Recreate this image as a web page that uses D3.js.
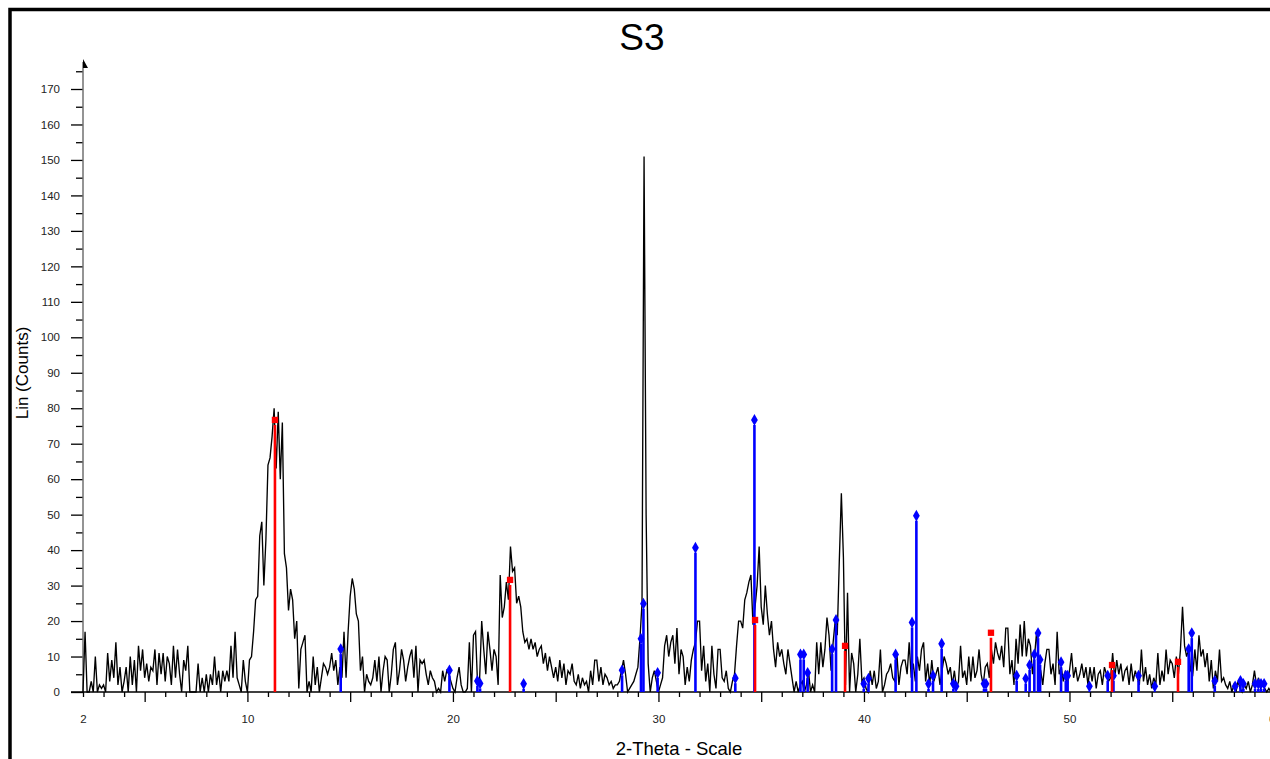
<!DOCTYPE html>
<html>
<head>
<meta charset="utf-8">
<script src="https://cdn.jsdelivr.net/npm/d3@7"></script>
<style>
  html, body { margin: 0; padding: 0; background: #fff; overflow: hidden; }
  svg { display: block; font-family: "Liberation Sans", Arial, sans-serif; }
</style>
</head>
<body>
<svg id="chart" width="1270" height="759"></svg>
<script>
// Scan settings: 2-theta from 2 to 60 degrees, 0.1 degree per step
const scanStart = 2;
const scanStep = 0.1;

// Measured counts, one row per degree (x.0 ... x.9)
const counts = [
  /* 2 */ 0,17,0,0,3,0,10,0,2,1,
  /* 3 */ 2,0,11,3,9,4,14,2,7,0,
  /* 4 */ 3,7,0,10,2,9,0,13,6,12,
  /* 5 */ 4,8,3,7,6,12,2,11,5,11,
  /* 6 */ 3,10,8,2,13,4,12,5,0,9,
  /* 7 */ 6,13,0,0,0,0,8,0,4,0,
  /* 8 */ 5,0,5,2,10,2,6,0,6,3,
  /* 9 */ 6,3,13,4,17,4,2,0,9,3,
  /* 10 */ 0,9,10,17,26,27,44,48,30,43,
  /* 11 */ 64,66,72,80,63,79,60,76,39,35,
  /* 12 */ 23,29,26,15,20,1,12,14,16,0,
  /* 13 */ 3,0,10,2,7,0,4,8,7,5,
  /* 14 */ 7,11,6,9,2,7,4,17,4,17,
  /* 15 */ 27,32,29,22,20,6,10,0,5,3,
  /* 16 */ 2,4,9,3,10,0,6,10,9,0,
  /* 17 */ 5,12,14,2,6,12,9,3,7,10,
  /* 18 */ 12,4,13,0,9,8,9,5,2,6,
  /* 19 */ 4,3,0,1,0,6,3,6,5,3,
  /* 20 */ 1,0,4,7,2,0,0,1,14,0,
  /* 21 */ 16,17,2,4,20,12,5,17,12,6,
  /* 22 */ 12,10,2,33,21,24,31,26,41,34,
  /* 23 */ 35,25,27,24,17,14,15,12,15,12,
  /* 24 */ 14,10,12,13,8,11,6,10,7,4,
  /* 25 */ 7,3,9,4,8,2,6,5,8,3,
  /* 26 */ 2,5,1,4,2,3,0,6,2,9,
  /* 27 */ 9,3,7,2,5,4,2,3,1,2,
  /* 28 */ 2,3,6,9,5,0,1,2,3,5,
  /* 29 */ 7,15,25,151,50,8,0,4,6,3,
  /* 30 */ 0,2,4,13,16,10,14,16,8,18,
  /* 31 */ 5,12,10,2,7,3,9,12,14,20,
  /* 32 */ 20,6,13,3,8,0,13,5,1,12,
  /* 33 */ 12,4,3,6,1,0,3,5,13,20,
  /* 34 */ 20,18,26,28,31,33,19,24,30,41,
  /* 35 */ 24,19,30,22,16,20,12,7,14,10,
  /* 36 */ 12,8,5,12,8,4,0,3,0,2,
  /* 37 */ 3,0,2,6,0,2,0,14,5,14,
  /* 38 */ 7,12,21,16,6,14,20,16,37,56,
  /* 39 */ 38,2,28,0,11,8,0,5,15,3,
  /* 40 */ 4,1,0,6,2,6,1,3,12,0,
  /* 41 */ 2,5,6,8,4,3,11,2,7,9,
  /* 42 */ 9,5,14,4,8,3,10,6,12,14,
  /* 43 */ 3,8,2,9,3,5,7,2,6,10,
  /* 44 */ 8,5,7,2,6,1,3,13,4,6,
  /* 45 */ 2,10,3,10,4,6,12,5,2,7,
  /* 46 */ 8,4,12,8,14,11,9,13,7,18,
  /* 47 */ 18,5,9,2,15,8,19,10,20,10,
  /* 48 */ 15,13,5,10,17,8,6,2,8,12,
  /* 49 */ 12,5,8,2,17,5,7,3,6,2,
  /* 50 */ 6,11,4,7,3,5,8,4,7,2,
  /* 51 */ 7,3,7,1,5,6,2,7,5,3,
  /* 52 */ 4,11,4,9,5,8,3,6,7,2,
  /* 53 */ 8,3,6,4,2,12,3,7,2,5,
  /* 54 */ 1,4,2,11,2,6,3,12,5,9,
  /* 55 */ 8,4,10,5,12,24,13,10,12,6,
  /* 56 */ 5,12,6,16,10,12,7,11,3,9,
  /* 57 */ 1,6,3,12,3,4,2,1,3,0,
  /* 58 */ 2,0,3,1,0,2,1,3,0,2,
  /* 59 */ 6,2,4,1,2,1,0,1,0,1,
  /* 60 */ 1
];

// Reference pattern lines, phase A (blue, diamonds)
const phaseAAngles = [14.54, 19.83, 21.19, 21.32, 23.44, 28.23, 29.15, 29.27, 29.96, 31.8,
  33.74, 34.67, 36.91, 37.07, 37.26, 38.45, 38.64, 39.99, 40.22, 41.54,
  42.34, 42.55, 43.14, 43.36, 43.78, 44.35, 44.48, 45.84, 45.94, 47.43,
  47.87, 48.06, 48.29, 48.47, 48.57, 49.59, 49.82, 49.91, 50.97, 51.86,
  52.14, 53.36, 54.15, 55.8, 55.95, 57.07, 58.06, 58.32, 58.46, 59.03,
  59.19, 59.32, 59.47];
const phaseAHeights = [12.1, 6.1, 3.1, 2.4, 2.3, 6.1, 15, 24.9, 5.4, 40.7,
  3.9, 76.7, 10.6, 10.6, 5.4, 12.1, 20.3, 2.3, 3.8, 10.6,
  19.6, 49.7, 2.3, 4.6, 13.6, 2.3, 1.6, 2.3, 2.3, 4.6,
  3.8, 7.6, 10.6, 16.6, 9.1, 8.4, 4.6, 4.6, 1.6, 4.6,
  4.6, 4.6, 1.6, 12.1, 16.6, 3.1, 1.6, 3.1, 2.3, 2.3,
  2.3, 2.3, 2.3];

// Reference pattern lines, phase B (red, squares)
const phaseBAngles = [11.34, 22.78, 34.7, 39.08, 46.18, 52.07, 55.28];
const phaseBHeights = [76.7, 31.6, 20.3, 13, 16.7, 7.6, 8.5];

// Axis ticks
const xLabelTicks = [2, 10, 20, 30, 40, 50, 60];
const yLabelTicks = [0, 10, 20, 30, 40, 50, 60, 70, 80, 90, 100, 110, 120, 130, 140, 150, 160, 170];

const chartTitle = "S3";
const xTitle = "2-Theta - Scale";
const yTitle = "Lin (Counts)";

const svg = d3.select("#chart");

const x = d3.scaleLinear().domain([2, 60]).range([83, 1275]);
const y = d3.scaleLinear().domain([0, 170]).range([692, 89]);

const scan = counts.map((c, i) => ({ angle: scanStart + i * scanStep, count: c }));
const phaseA = phaseAAngles.map((a, i) => ({ angle: a, height: phaseAHeights[i] }));
const phaseB = phaseBAngles.map((a, i) => ({ angle: a, height: phaseBHeights[i] }));

// Outer frame
svg.append("rect")
  .attr("x", 10).attr("y", 9.5)
  .attr("width", 1400).attr("height", 900)
  .attr("fill", "none").attr("stroke", "#000").attr("stroke-width", 3.5);

// Title
svg.append("text")
  .attr("x", 642).attr("y", 50)
  .attr("text-anchor", "middle")
  .attr("font-size", 37)
  .attr("fill", "#000")
  .text(chartTitle);

// Y axis: major ticks every 10 with labels, minor every 5 up to 175
const yMinor = d3.range(0, 180, 5);
const yAxis = d3.axisLeft(y)
  .tickValues(yMinor)
  .tickSize(7)
  .tickPadding(11)
  .tickFormat(d => yLabelTicks.includes(d) ? d : "");
const gy = svg.append("g").attr("transform", "translate(83,0)").call(yAxis);
gy.select(".domain").remove();
gy.selectAll(".tick line")
  .attr("stroke", "#000")
  .attr("stroke-width", 1.3)
  .attr("x2", d => yLabelTicks.includes(d) ? -12 : -7);
gy.selectAll(".tick text")
  .attr("x", -23)
  .attr("font-size", 11.5)
  .attr("fill", "#222")
  .attr("font-family", "'Liberation Sans', Arial, sans-serif");

// Y axis line with arrow head
svg.append("line")
  .attr("x1", 83).attr("x2", 83)
  .attr("y1", y(0)).attr("y2", 62)
  .attr("stroke", "#707070").attr("stroke-width", 1.5);
svg.append("path")
  .attr("d", "M83,59 L88,68 L83,68 Z")
  .attr("fill", "#000");

// X axis: minor ticks every degree, longer ticks every 5 degrees
const xMinor = d3.range(2, 61, 1);
const xAxis = d3.axisBottom(x)
  .tickValues(xMinor)
  .tickSize(5)
  .tickFormat(d => xLabelTicks.includes(d) ? d : "");
const gx = svg.append("g").attr("transform", `translate(0,${y(0)})`).call(xAxis);
gx.select(".domain").remove();
gx.selectAll(".tick line")
  .attr("stroke", "#000")
  .attr("stroke-width", 1.3)
  .attr("y2", d => d % 5 === 0 ? 10 : 5);
gx.selectAll(".tick text")
  .attr("y", 23)
  .attr("font-size", 11.5)
  .attr("fill", "#222")
  .attr("font-family", "'Liberation Sans', Arial, sans-serif");
svg.append("line")
  .attr("x1", 71).attr("x2", 1275)
  .attr("y1", y(0)).attr("y2", y(0))
  .attr("stroke", "#000").attr("stroke-width", 1.5);

// Axis titles
svg.append("text")
  .attr("transform", "translate(28,373) rotate(-90)")
  .attr("text-anchor", "middle")
  .attr("font-size", 17)
  .attr("fill", "#000")
  .text(yTitle);
svg.append("text")
  .attr("x", 679).attr("y", 755)
  .attr("text-anchor", "middle")
  .attr("font-size", 18.5)
  .attr("fill", "#000")
  .text(xTitle);

// Diffraction scan
const line = d3.line()
  .x(d => x(d.angle))
  .y(d => y(d.count));
svg.append("path")
  .datum(scan)
  .attr("d", line)
  .attr("fill", "none")
  .attr("stroke", "#000")
  .attr("stroke-width", 1.35)
  .attr("stroke-linejoin", "miter");

// Pattern sticks
function drawSticks(data, color, symbolType, size) {
  const g = svg.append("g");
  g.selectAll("line")
    .data(data)
    .join("line")
    .attr("x1", d => x(d.angle)).attr("x2", d => x(d.angle))
    .attr("y1", y(0))
    .attr("y2", d => Math.min(y(d.height) + 5, y(0)))
    .attr("stroke", color)
    .attr("stroke-width", 2.6);
  g.selectAll("path")
    .data(data)
    .join("path")
    .attr("transform", d => `translate(${x(d.angle)},${y(d.height)})`)
    .attr("d", d3.symbol().type(symbolType).size(size))
    .attr("fill", color);
}
drawSticks(phaseA, "#0000ff", d3.symbolDiamond, 40);
drawSticks(phaseB, "#ff0000", d3.symbolSquare, 40);
</script>
</body>
</html>
